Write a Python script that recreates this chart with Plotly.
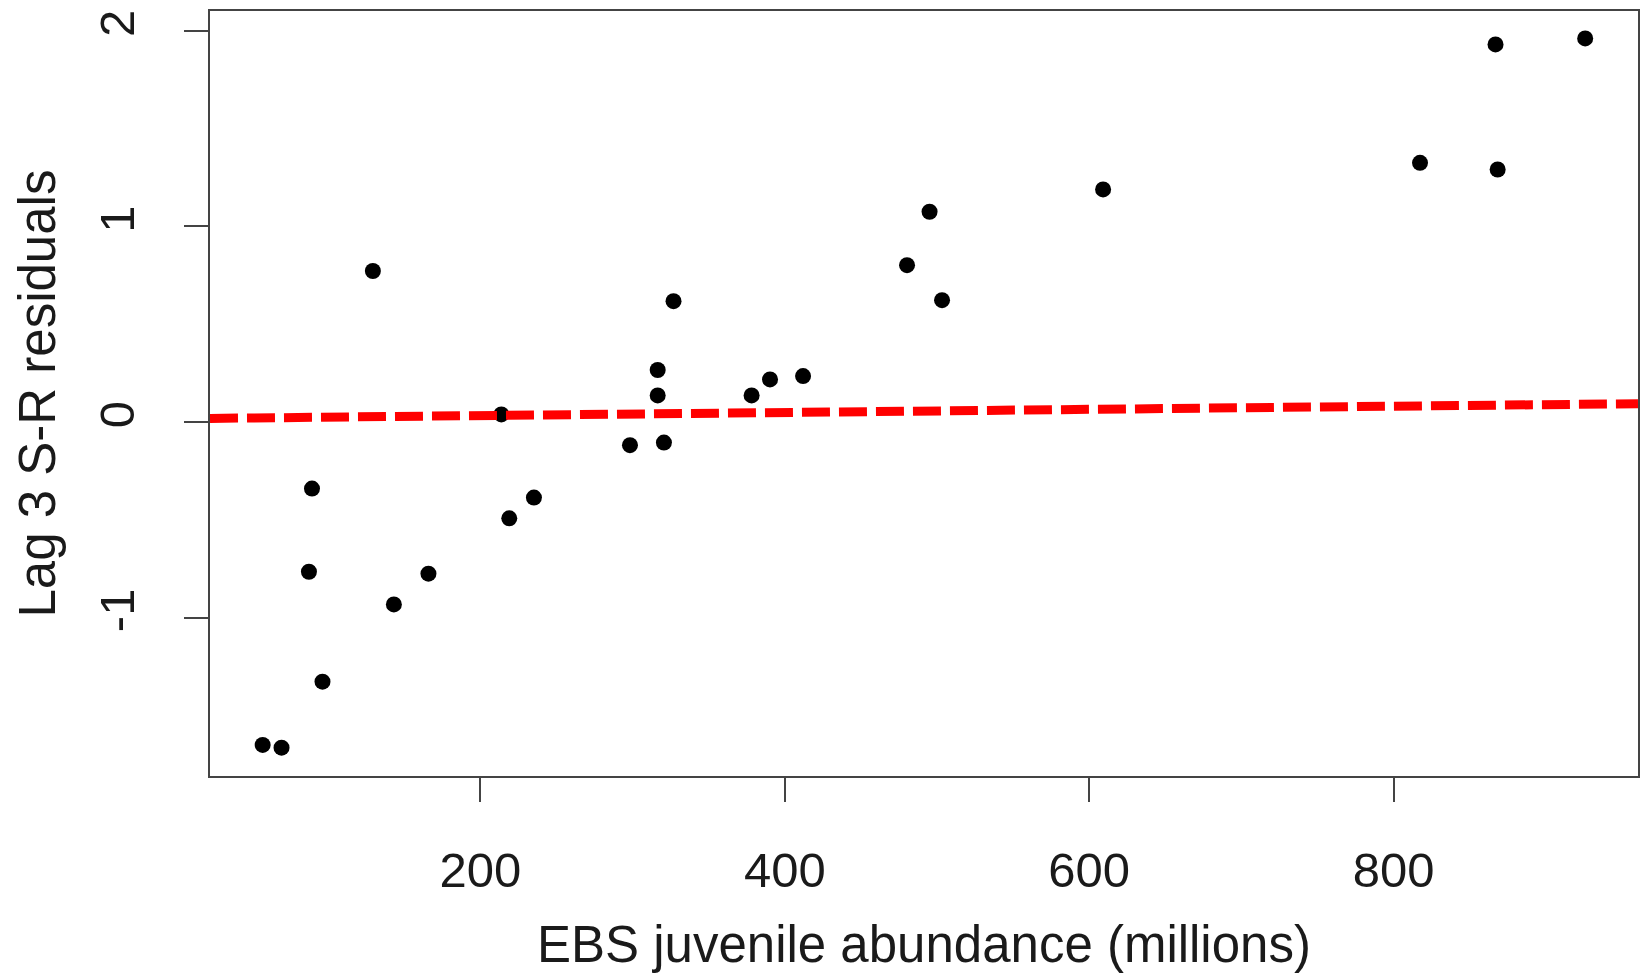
import plotly.graph_objects as go

# Data
abundance = [57, 69.4, 87.4, 89.4, 96.3, 129.4, 143.2, 165.9, 213.8, 219, 235.2,
             298.3, 316.5, 316.5, 320.6, 326.9, 378.2, 390.3, 412, 480.3, 495.1,
             503.3, 609.1, 817.3, 866.9, 868.3, 925.8]
residuals = [-1.650, -1.664, -0.765, -0.340, -1.327, 0.772, -0.932, -0.775, 0.039, -0.492, -0.386,
             -0.118, 0.266, 0.136, -0.105, 0.618, 0.136, 0.218, 0.235, 0.802, 1.075,
             0.623, 1.189, 1.325, 1.930, 1.291, 1.961]
line_intercept = 0.017
line_slope = 0.00008
x_ticks = [200, 400, 600, 800]
y_ticks = [-1, 0, 1, 2]
x_range = [22.4, 960.5]
y_range = [-1.809, 2.101]

FONT = "Liberation Sans, Arial, sans-serif"

fig = go.Figure()
fig.add_trace(go.Scatter(
    x=abundance, y=residuals, mode="markers",
    marker=dict(color="black", size=16, line=dict(width=0)),
    showlegend=False, cliponaxis=False))

lx = x_range
ly = [line_intercept + line_slope * v for v in lx]
fig.add_trace(go.Scatter(
    x=lx, y=ly, mode="lines",
    line=dict(color="#ff0000", width=9, dash="28px,9px"),
    showlegend=False))

axis_common = dict(
    showgrid=False, zeroline=False, showline=True, mirror=True,
    linecolor="#444", linewidth=2, ticks="outside", ticklen=24,
    tickwidth=1.5, tickcolor="#444",
    tickfont=dict(family=FONT, size=49, color="#1a1a1a"),
)

fig.update_xaxes(range=x_range, tickvals=x_ticks, ticktext=[str(v) for v in x_ticks],
                 ticklabelstandoff=26, **axis_common)
fig.update_yaxes(range=y_range, tickvals=y_ticks, ticktext=[str(v) for v in y_ticks],
                 tickangle=-90, ticklabelstandoff=30, **axis_common)

fig.update_layout(
    width=1648, height=973,
    margin=dict(l=210, r=8, t=11, b=197),
    paper_bgcolor="white", plot_bgcolor="white",
    font=dict(family=FONT, color="#1a1a1a"),
    annotations=[
        dict(text="EBS juvenile abundance (millions)", xref="paper", yref="paper",
             x=0.5, y=0, yshift=-168, xanchor="center", yanchor="middle",
             showarrow=False, font=dict(family=FONT, size=51, color="#1a1a1a")),
        dict(text="Lag 3 S-R residuals", xref="paper", yref="paper",
             x=0, y=0.5, xshift=-173, xanchor="center", yanchor="middle",
             textangle=-90, showarrow=False,
             font=dict(family=FONT, size=51, color="#1a1a1a")),
    ],
)

fig.write_html("out.html")
